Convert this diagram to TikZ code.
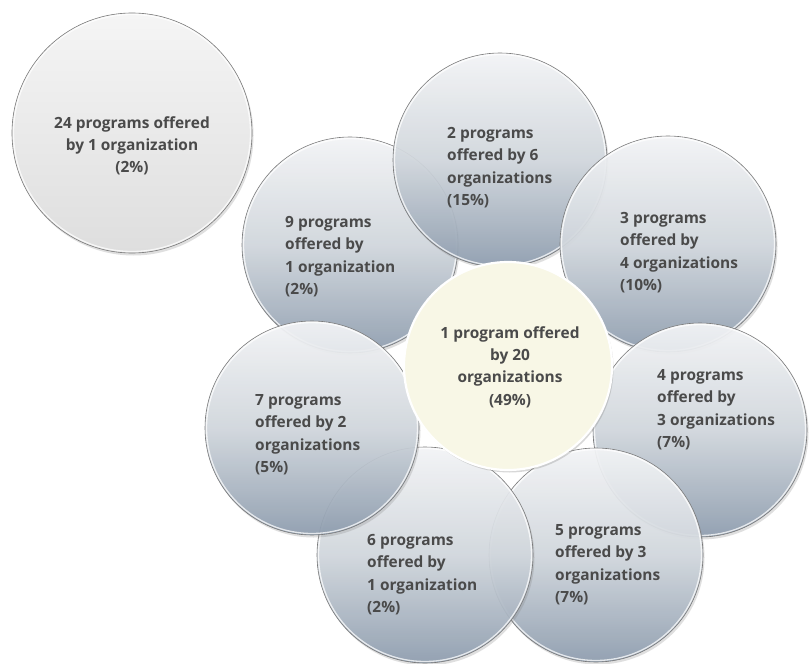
\documentclass[tikz,border=0pt]{standalone}
\usepackage{fontspec}
\setmainfont{Open Sans}
\usetikzlibrary{shadows}
\definecolor{txt}{HTML}{4A4A4A}
\definecolor{petaltop}{HTML}{F5F6F8}
\definecolor{petalmid}{HTML}{D2D8DE}
\definecolor{petalbot}{HTML}{8E9DAF}
\definecolor{edge}{HTML}{7A7A7A}
\definecolor{cream}{HTML}{F8F7E6}
\definecolor{isotop}{HTML}{F5F5F5}
\definecolor{isobot}{HTML}{DEDEDE}
\tikzset{
  petal/.style={circle, draw=edge, line width=0.6bp, top color=petaltop, bottom color=petalbot,
    middle color=petalmid, fill opacity=0.92,
    minimum size=#1, inner sep=0pt,
    drop shadow={opacity=0.25, shadow xshift=1.5bp, shadow yshift=-2.5bp}},
  hub/.style={circle, draw=white, line width=2.2bp, fill=cream, minimum size=#1, inner sep=0pt,
    drop shadow={opacity=0.3, shadow xshift=1.5bp, shadow yshift=-2.5bp}},
  lone/.style={circle, draw=edge, line width=0.6bp, top color=isotop, bottom color=isobot,
    minimum size=#1, inner sep=0pt,
    drop shadow={opacity=0.25, shadow xshift=1.5bp, shadow yshift=-2.5bp}},
  lbl/.style={text=txt, font=\bfseries\fontsize{15.5}{22.5}\selectfont, inner sep=0pt, align=left, anchor=north west},
  clbl/.style={text=txt, font=\bfseries\fontsize{15.5}{22.5}\selectfont, inner sep=0pt, align=center, anchor=north},
  glow/.style={draw=white, line width=1.3bp, opacity=0.75}
}
\begin{document}
\begin{tikzpicture}[x=1bp,y=-1bp]
\useasboundingbox[fill=white] (0,0) rectangle (809,664);
% isolated circle
\node[lone=240bp] (iso) at (132,133) {};
\draw[glow] (iso.center) circle (118.5);
% petals, bottom layer first
\node[petal=216bp] (p9) at (350,245) {};
\draw[glow] (p9.center) circle (106.5);
\node[petal=214bp] (p2) at (500,160) {};
\draw[glow] (p2.center) circle (105.5);
\node[petal=216bp] (p3) at (668,244) {};
\draw[glow] (p3.center) circle (106.5);
\node[petal=214bp] (p4) at (700,430) {};
\draw[glow] (p4.center) circle (105.5);
\node[petal=214bp] (p5) at (596,555) {};
\draw[glow] (p5.center) circle (105.5);
\node[petal=216bp] (p6) at (425,555) {};
\draw[glow] (p6.center) circle (106.5);
\node[petal=214bp] (p7) at (312,428) {};
\draw[glow] (p7.center) circle (105.5);
% hub
\node[hub=208bp] (hub) at (508,366) {};
% labels
\node[clbl] (tiso) at (132,116) {24 programs offered\\by 1 organization\\(2\%)};
\node[lbl] (t2) at (447,127) {2 programs\\offered by 6\\organizations\\(15\%)};
\node[lbl] (t9) at (285,216) {9 programs\\offered by\\1 organization\\(2\%)};
\node[lbl] (t3) at (620,212) {3 programs\\offered by\\4 organizations\\(10\%)};
\node[lbl] (t4) at (657,369) {4 programs\\offered by\\3 organizations\\(7\%)};
\node[lbl] (t7) at (255,394) {7 programs\\offered by 2\\organizations\\(5\%)};
\node[lbl] (t6) at (367,534) {6 programs\\offered by\\1 organization\\(2\%)};
\node[lbl] (t5) at (555,524) {5 programs\\offered by 3\\organizations\\(7\%)};
\node[clbl] (thub) at (510,326) {1 program offered\\by 20\\organizations\\(49\%)};
\end{tikzpicture}
\end{document}
